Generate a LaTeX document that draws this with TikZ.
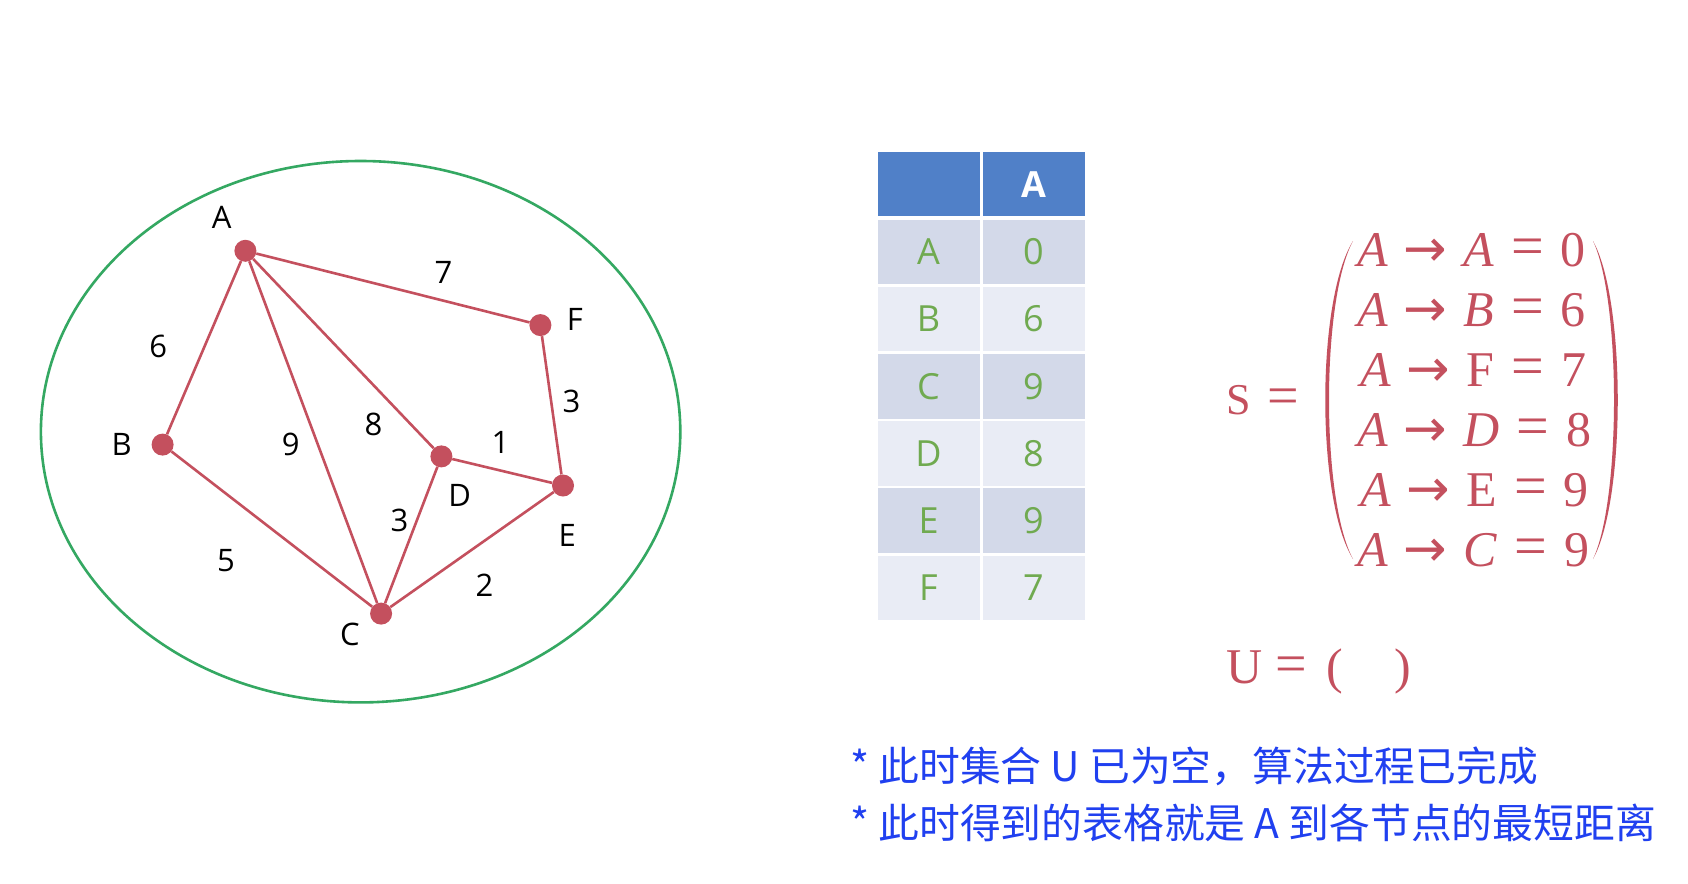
\RequirePackage{fix-cm}
\documentclass[tikz,border=0pt]{standalone}
\usepackage[no-math]{fontspec}
\setmainfont{Open Sans}
\newfontfamily\cjk{Noto Sans CJK SC}
\newfontfamily\serifset{Liberation Serif}
\newfontfamily\arrowfont{DejaVu Sans}
\definecolor{rose}{RGB}{196,80,94}
\definecolor{ringgreen}{RGB}{52,168,98}
\definecolor{hdrblue}{RGB}{80,128,200}
\definecolor{rowdark}{RGB}{211,217,233}
\definecolor{rowlight}{RGB}{233,236,245}
\definecolor{cellgreen}{RGB}{112,170,80}
\definecolor{noteblue}{RGB}{32,64,240}
\newcommand\arr{\hspace{-3pt}{\arrowfont\fontsize{52}{52}\selectfont\raisebox{0.5pt}{→}}\hspace{-3pt}}
\newcommand\gp{\hspace{19pt}}
\newcommand\eqs{\hspace{-2pt}{\fontsize{58}{58}\selectfont\raisebox{1.5pt}{=}}\hspace{-2pt}}
\begin{document}
\begin{tikzpicture}[x=1pt,y=-1pt,
  vert/.style={circle,fill=rose,inner sep=0pt,minimum size=22pt},
  edge/.style={draw=rose,line width=2.6pt},
  lbl/.style={font=\fontsize{31}{36}\selectfont,inner sep=0pt},
  cell/.style={rectangle,minimum width=102pt,minimum height=64.6pt,inner sep=0pt,
    font=\fontsize{36}{40}\selectfont,text=cellgreen},
  srow/.style={anchor=base west,inner sep=0pt,text=rose,font=\serifset\fontsize{50}{50}\selectfont},
  note/.style={anchor=west,inner sep=0pt,text=noteblue,font=\cjk\fontsize{40.8}{44}\selectfont}]
\useasboundingbox (0,0) rectangle (1688,883);
\fill[white] (0,0) rectangle (1688,883);
% ring
\draw[ringgreen,line width=2.6pt] (360.6,431.7) ellipse [x radius=319.7, y radius=270.7];
% vertices
\node[vert] (A) at (245.4,250.8) {};
\node[vert] (F) at (540.4,325.1) {};
\node[vert] (B) at (162.6,444.6) {};
\node[vert] (D) at (441.4,456.4) {};
\node[vert] (E) at (563.0,485.5) {};
\node[vert] (C) at (381.1,613.6) {};
% edges
\draw[edge] (A) -- (F);
\draw[edge] (A) -- (B);
\draw[edge] (A) -- (C);
\draw[edge] (A) -- (D);
\draw[edge] (F) -- (E);
\draw[edge] (D) -- (E);
\draw[edge] (B) -- (C);
\draw[edge] (D) -- (C);
\draw[edge] (E) -- (C);
% vertex names
\node[lbl] (lA) at (221.8,217.5) {A};
\node[lbl] (lF) at (574.9,319.7) {F};
\node[lbl] (lB) at (121.6,444.6) {B};
\node[lbl] (lD) at (459.7,495.2) {D};
\node[lbl] (lE) at (567.3,535.0) {E};
\node[lbl] (lC) at (349.9,634.0) {C};
% weights
\node[lbl] (wAF) at (443.5,272.4) {7};
\node[lbl] (wAB) at (158.2,346.6) {6};
\node[lbl] (wFE) at (571.6,401.5) {3};
\node[lbl] (wAD) at (373.5,424.1) {8};
\node[lbl] (wAC) at (290.7,444.6) {9};
\node[lbl] (wDE) at (500.6,442.4) {1};
\node[lbl] (wDC) at (399.4,520.0) {3};
\node[lbl] (wBC) at (226.1,560.9) {5};
\node[lbl] (wEC) at (484.4,585.6) {2};
% table
\node[cell,fill=hdrblue] (h0) at (928.5,184.1) {};
\node[cell,fill=hdrblue,text=white,font=\fontsize{36}{40}\selectfont\bfseries] (h1) at (1033.5,184.1) {A};
\node[cell,fill=rowdark]  (rA0) at (928.5,251.9) {A};
\node[cell,fill=rowdark]  (rA1) at (1033.5,251.9) {0};
\node[cell,fill=rowlight] (rB0) at (928.5,319.1) {B};
\node[cell,fill=rowlight] (rB1) at (1033.5,319.1) {6};
\node[cell,fill=rowdark]  (rC0) at (928.5,386.3) {C};
\node[cell,fill=rowdark]  (rC1) at (1033.5,386.3) {9};
\node[cell,fill=rowlight] (rD0) at (928.5,453.5) {D};
\node[cell,fill=rowlight] (rD1) at (1033.5,453.5) {8};
\node[cell,fill=rowdark]  (rE0) at (928.5,520.7) {E};
\node[cell,fill=rowdark]  (rE1) at (1033.5,520.7) {9};
\node[cell,fill=rowlight] (rF0) at (928.5,587.9) {F};
\node[cell,fill=rowlight] (rF1) at (1033.5,587.9) {7};
% S set
\node[srow] (Seq) at (1226.7,414.5) {{\fontsize{44}{44}\selectfont S}\hspace{16pt}{\fontsize{56}{56}\selectfont =}};
\fill[rose] (1353,241) .. controls (1316,300) and (1316,500) .. (1353,559)
                       .. controls (1321,500) and (1321,300) .. (1353,241);
\fill[rose] (1593,241) .. controls (1626,300) and (1626,500) .. (1593,559)
                       .. controls (1621,500) and (1621,300) .. (1593,241);
\node[srow] (s1) at (1357,266.5) {\textit{A}\gp\arr\gp\textit{A}\gp\eqs\gp0};
\node[srow] (s2) at (1357,326.5) {\textit{A}\gp\arr\gp\textit{B}\gp\eqs\gp6};
\node[srow] (s3) at (1360,386.5) {\textit{A}\gp\arr\gp F\gp\eqs\gp7};
\node[srow] (s4) at (1357,446.5) {\textit{A}\gp\arr\gp\textit{D}\gp\eqs\gp8};
\node[srow] (s5) at (1360,506.5) {\textit{A}\gp\arr\gp E\gp\eqs\gp9};
\node[srow] (s6) at (1357,566.5) {\textit{A}\gp\arr\gp\textit{C}\gp\eqs\gp9};
% U set
\node[srow] (U) at (1226.7,683) {U\hspace{12pt}{\fontsize{56}{56}\selectfont\raisebox{1pt}{=}}\hspace{20pt}(\hspace{51pt})};
% notes
\node[note] (n1) at (850,766.5) {* 此时集合 U 已为空，算法过程已完成};
\node[note] (n2) at (850,822.5) {* 此时得到的表格就是 A 到各节点的最短距离};
\end{tikzpicture}
\end{document}
